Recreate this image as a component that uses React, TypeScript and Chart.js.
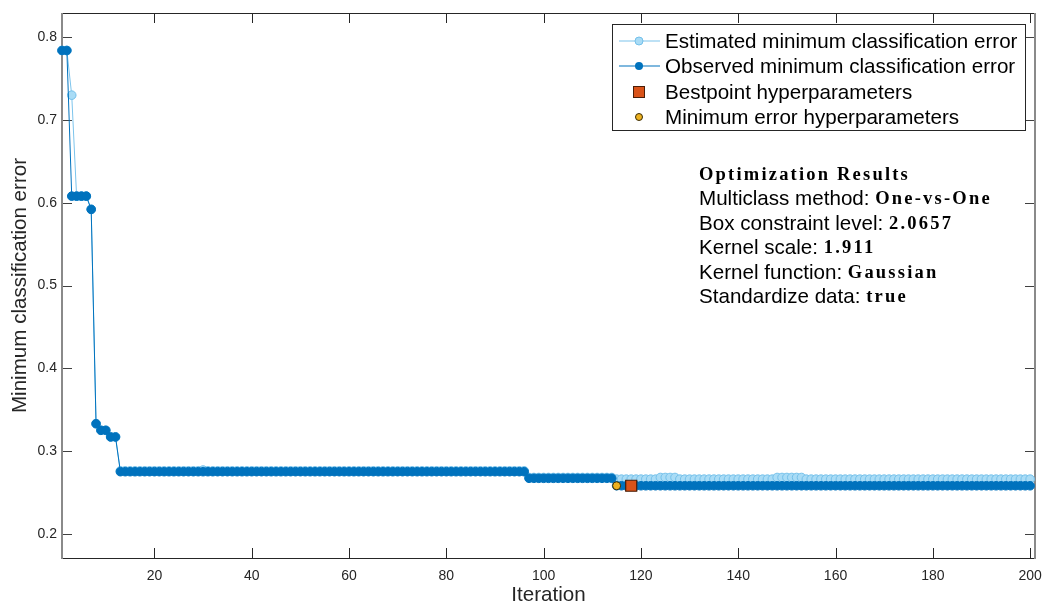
import React, { useEffect, useRef } from "react";
import { Chart, registerables } from "chart.js";

Chart.register(...registerables);

// ---------- data ----------
const iterations: number[] = Array.from({ length: 200 }, (_, i) => i + 1);

const estimatedMinError: number[] = [
  0.784, 0.784, 0.730, 0.608, 0.608, 0.608, 0.592, 0.333, 0.325, 0.325,
  0.317, 0.317, 0.276, 0.276, 0.276, 0.276, 0.276, 0.276, 0.276, 0.276,
  0.276, 0.276, 0.276, 0.276, 0.276, 0.276, 0.276, 0.276, 0.276, 0.277,
  0.276, 0.276, 0.276, 0.276, 0.276, 0.276, 0.276, 0.276, 0.276, 0.276,
  0.276, 0.276, 0.276, 0.276, 0.276, 0.276, 0.276, 0.276, 0.276, 0.276,
  0.276, 0.276, 0.276, 0.276, 0.276, 0.276, 0.276, 0.276, 0.276, 0.276,
  0.276, 0.276, 0.276, 0.276, 0.276, 0.276, 0.276, 0.276, 0.276, 0.276,
  0.276, 0.276, 0.276, 0.276, 0.276, 0.276, 0.276, 0.276, 0.276, 0.276,
  0.276, 0.276, 0.276, 0.276, 0.276, 0.276, 0.276, 0.276, 0.276, 0.276,
  0.276, 0.276, 0.276, 0.276, 0.276, 0.276, 0.268, 0.268, 0.268, 0.268,
  0.268, 0.268, 0.268, 0.268, 0.268, 0.268, 0.268, 0.268, 0.268, 0.268,
  0.268, 0.268, 0.268, 0.268, 0.266, 0.266, 0.266, 0.266, 0.266, 0.266,
  0.266, 0.266, 0.266, 0.268, 0.268, 0.268, 0.268, 0.266, 0.266, 0.266,
  0.266, 0.266, 0.266, 0.266, 0.266, 0.266, 0.266, 0.266, 0.266, 0.266,
  0.266, 0.266, 0.266, 0.266, 0.266, 0.266, 0.266, 0.268, 0.268, 0.268,
  0.268, 0.268, 0.268, 0.266, 0.266, 0.266, 0.266, 0.266, 0.266, 0.266,
  0.266, 0.266, 0.266, 0.266, 0.266, 0.266, 0.266, 0.266, 0.266, 0.266,
  0.266, 0.266, 0.266, 0.266, 0.266, 0.266, 0.266, 0.266, 0.266, 0.266,
  0.266, 0.266, 0.266, 0.266, 0.266, 0.266, 0.266, 0.266, 0.266, 0.266,
  0.266, 0.266, 0.266, 0.266, 0.266, 0.266, 0.266, 0.266, 0.266, 0.266,
];

const observedMinError: number[] = [
  0.784, 0.784, 0.608, 0.608, 0.608, 0.608, 0.592, 0.333, 0.325, 0.325,
  0.317, 0.317, 0.275, 0.275, 0.275, 0.275, 0.275, 0.275, 0.275, 0.275,
  0.275, 0.275, 0.275, 0.275, 0.275, 0.275, 0.275, 0.275, 0.275, 0.275,
  0.275, 0.275, 0.275, 0.275, 0.275, 0.275, 0.275, 0.275, 0.275, 0.275,
  0.275, 0.275, 0.275, 0.275, 0.275, 0.275, 0.275, 0.275, 0.275, 0.275,
  0.275, 0.275, 0.275, 0.275, 0.275, 0.275, 0.275, 0.275, 0.275, 0.275,
  0.275, 0.275, 0.275, 0.275, 0.275, 0.275, 0.275, 0.275, 0.275, 0.275,
  0.275, 0.275, 0.275, 0.275, 0.275, 0.275, 0.275, 0.275, 0.275, 0.275,
  0.275, 0.275, 0.275, 0.275, 0.275, 0.275, 0.275, 0.275, 0.275, 0.275,
  0.275, 0.275, 0.275, 0.275, 0.275, 0.275, 0.267, 0.267, 0.267, 0.267,
  0.267, 0.267, 0.267, 0.267, 0.267, 0.267, 0.267, 0.267, 0.267, 0.267,
  0.267, 0.267, 0.267, 0.267, 0.258, 0.258, 0.258, 0.258, 0.258, 0.258,
  0.258, 0.258, 0.258, 0.258, 0.258, 0.258, 0.258, 0.258, 0.258, 0.258,
  0.258, 0.258, 0.258, 0.258, 0.258, 0.258, 0.258, 0.258, 0.258, 0.258,
  0.258, 0.258, 0.258, 0.258, 0.258, 0.258, 0.258, 0.258, 0.258, 0.258,
  0.258, 0.258, 0.258, 0.258, 0.258, 0.258, 0.258, 0.258, 0.258, 0.258,
  0.258, 0.258, 0.258, 0.258, 0.258, 0.258, 0.258, 0.258, 0.258, 0.258,
  0.258, 0.258, 0.258, 0.258, 0.258, 0.258, 0.258, 0.258, 0.258, 0.258,
  0.258, 0.258, 0.258, 0.258, 0.258, 0.258, 0.258, 0.258, 0.258, 0.258,
  0.258, 0.258, 0.258, 0.258, 0.258, 0.258, 0.258, 0.258, 0.258, 0.258,
];

const bestpointIteration: number[] = [118];
const bestpointError: number[] = [0.258];
const minErrorIteration: number[] = [115];
const minErrorValue: number[] = [0.258];

const xTickValues: number[] = [20, 40, 60, 80, 100, 120, 140, 160, 180, 200];
const yTickValues: number[] = [0.2, 0.3, 0.4, 0.5, 0.6, 0.7, 0.8];
const xRange: number[] = [1, 201];
const yRange: number[] = [0.1707, 0.8293];

const legendLabels: string[] = [
  "Estimated minimum classification error",
  "Observed minimum classification error",
  "Bestpoint hyperparameters",
  "Minimum error hyperparameters",
];

const resultLabels: string[] = [
  "",
  "Multiclass method: ",
  "Box constraint level: ",
  "Kernel scale: ",
  "Kernel function: ",
  "Standardize data: ",
];
const resultValues: string[] = [
  "Optimization Results",
  "One-vs-One",
  "2.0657",
  "1.911",
  "Gaussian",
  "true",
];

// ---------- styles ----------
const EST_LINE = "#7cc4ec";
const EST_FILL = "#a9dcf6";
const EST_EDGE = "#74c0ea";
const OBS = "#0072BD";
const BEST_FILL = "#D95319";
const BEST_EDGE = "#4a1e08";
const MIN_FILL = "#EDB120";
const MIN_EDGE = "#3a2c06";
const SANS = '"Liberation Sans", Arial, sans-serif';
const SERIF = '"Liberation Serif", "Times New Roman", serif';

const framePlugin = {
  id: "matlabFrame",
  beforeDatasetsDraw(chart: any) {
    const { ctx, chartArea, scales } = chart;
    const { left, right, top, bottom } = chartArea;
    const x = scales.x;
    const y = scales.y;
    ctx.save();
    ctx.lineWidth = 1;
    ctx.strokeStyle = "#262626";
    const seg = (x1: number, y1: number, x2: number, y2: number) => {
      ctx.beginPath();
      ctx.moveTo(x1, y1);
      ctx.lineTo(x2, y2);
      ctx.stroke();
    };
    xTickValues.forEach((v) => {
      const px = Math.round(x.getPixelForValue(v)) + 0.5;
      seg(px, bottom, px, bottom - 10);
      seg(px, top, px, top + 10);
    });
    ctx.strokeStyle = "#404040";
    yTickValues.forEach((v) => {
      const py = Math.round(y.getPixelForValue(v)) + 0.5;
      seg(left, py, left + 10, py);
      seg(right, py, right - 10, py);
    });
    // box
    ctx.strokeStyle = "#262626";
    ctx.lineWidth = 1.2;
    seg(left, top + 0.5, right, top + 0.5);
    seg(left, bottom + 0.5, right, bottom + 0.5);
    ctx.strokeStyle = "#8a8a8a";
    ctx.lineWidth = 2;
    seg(left, top, left, bottom + 1);
    seg(right, top, right, bottom + 1);
    ctx.restore();
  },
  afterDraw(chart: any) {
    const { ctx } = chart;
    ctx.save();
    // ----- legend -----
    const bx = 612.5, by = 24.5, bw = 413, bh = 106;
    ctx.fillStyle = "#ffffff";
    ctx.fillRect(bx, by, bw, bh);
    ctx.strokeStyle = "#262626";
    ctx.lineWidth = 1;
    ctx.strokeRect(bx, by, bw, bh);
    const rows = [41, 66, 92, 117];
    const mx = 639;
    // row 1 estimated
    ctx.strokeStyle = EST_LINE;
    ctx.lineWidth = 1.2;
    ctx.beginPath(); ctx.moveTo(619, rows[0]); ctx.lineTo(660, rows[0]); ctx.stroke();
    ctx.beginPath(); ctx.arc(mx, rows[0], 4, 0, Math.PI * 2);
    ctx.fillStyle = EST_FILL; ctx.fill(); ctx.strokeStyle = EST_EDGE; ctx.lineWidth = 1; ctx.stroke();
    // row 2 observed
    ctx.strokeStyle = OBS;
    ctx.lineWidth = 1.2;
    ctx.beginPath(); ctx.moveTo(619, rows[1]); ctx.lineTo(660, rows[1]); ctx.stroke();
    ctx.beginPath(); ctx.arc(mx, rows[1], 4, 0, Math.PI * 2);
    ctx.fillStyle = OBS; ctx.fill();
    // row 3 bestpoint square
    ctx.fillStyle = BEST_FILL;
    ctx.fillRect(mx - 5.5, rows[2] - 5.5, 11, 11);
    ctx.strokeStyle = BEST_EDGE; ctx.lineWidth = 1;
    ctx.strokeRect(mx - 5.5, rows[2] - 5.5, 11, 11);
    // row 4 min error circle
    ctx.beginPath(); ctx.arc(mx, rows[3], 3.5, 0, Math.PI * 2);
    ctx.fillStyle = MIN_FILL; ctx.fill(); ctx.strokeStyle = MIN_EDGE; ctx.stroke();
    ctx.fillStyle = "#000000";
    ctx.font = `20.6px ${SANS}`;
    ctx.textBaseline = "middle";
    ctx.textAlign = "left";
    legendLabels.forEach((t, i) => ctx.fillText(t, 665, rows[i] + 1));

    // ----- results annotation -----
    const tx = 699;
    const ty0 = 175;
    const dy = 24.5;
    resultLabels.forEach((lab, i) => {
      const yy = ty0 + i * dy;
      ctx.font = `20.6px ${SANS}`;
      (ctx as any).letterSpacing = "0px";
      ctx.fillStyle = "#000000";
      ctx.fillText(lab, tx, yy);
      const w = lab ? ctx.measureText(lab).width : 0;
      ctx.font = `bold 18.5px ${SERIF}`;
      (ctx as any).letterSpacing = "2.2px";
      ctx.fillText(resultValues[i], tx + w, yy);
    });
    (ctx as any).letterSpacing = "0px";
    ctx.restore();
  },
};

export default function App() {
  const canvasRef = useRef<HTMLCanvasElement | null>(null);

  useEffect(() => {
    if (!canvasRef.current) return;
    const chart = new Chart(canvasRef.current, {
      type: "line",
      data: {
        datasets: [
          {
            label: legendLabels[3],
            data: minErrorIteration.map((x, i) => ({ x, y: minErrorValue[i] })),
            showLine: false,
            pointStyle: "circle",
            pointRadius: 4,
            pointBackgroundColor: MIN_FILL,
            pointBorderColor: MIN_EDGE,
            pointBorderWidth: 1,
            clip: false,
          } as any,
          {
            label: legendLabels[2],
            data: bestpointIteration.map((x, i) => ({ x, y: bestpointError[i] })),
            showLine: false,
            pointStyle: "rect",
            pointRadius: 7.8,
            pointBackgroundColor: BEST_FILL,
            pointBorderColor: BEST_EDGE,
            pointBorderWidth: 1.2,
            clip: false,
          } as any,
          {
            label: legendLabels[1],
            data: iterations.map((x, i) => ({ x, y: observedMinError[i] })),
            borderColor: OBS,
            borderWidth: 1,
            pointRadius: 4.3,
            pointBackgroundColor: OBS,
            pointBorderColor: OBS,
            pointBorderWidth: 1,
            tension: 0,
            clip: false,
          } as any,
          {
            label: legendLabels[0],
            data: iterations.map((x, i) => ({ x, y: estimatedMinError[i] })),
            borderColor: EST_LINE,
            borderWidth: 1,
            pointRadius: 4.3,
            pointBackgroundColor: EST_FILL,
            pointBorderColor: EST_EDGE,
            pointBorderWidth: 1,
            tension: 0,
            clip: false,
          } as any,
        ],
      },
      options: {
        animation: false,
        responsive: true,
        maintainAspectRatio: false,
        layout: { padding: { top: 13, right: 8, left: 0, bottom: 0 } },
        plugins: { legend: { display: false }, tooltip: { enabled: false } },
        scales: {
          x: {
            type: "linear",
            min: xRange[0],
            max: xRange[1],
            grid: { display: false, drawTicks: false },
            border: { display: false },
            ticks: {
              font: { family: SANS, size: 14 },
              color: "#262626",
              padding: 10,
              maxRotation: 0,
              autoSkip: false,
            },
            afterBuildTicks: (s: any) => {
              s.ticks = xTickValues.map((v) => ({ value: v }));
            },
            afterFit: (s: any) => {
              s.height = 47;
              s.paddingLeft = 0;
              s.paddingRight = 0;
            },
            title: {
              display: true,
              text: "Iteration",
              font: { family: SANS, size: 20.6, lineHeight: 1 },
              color: "#262626",
              padding: { top: 0, bottom: -1 },
            },
          },
          y: {
            type: "linear",
            min: yRange[0],
            max: yRange[1],
            grid: { display: false, drawTicks: false },
            border: { display: false },
            ticks: {
              font: { family: SANS, size: 14 },
              color: "#262626",
              padding: 5,
              callback: (v: any) => Number(v).toFixed(1),
            },
            afterBuildTicks: (s: any) => {
              s.ticks = yTickValues.map((v) => ({ value: v }));
            },
            afterFit: (s: any) => {
              s.width = 62;
              s.paddingTop = 0;
              s.paddingBottom = 0;
            },
            title: {
              display: true,
              text: "Minimum classification error",
              font: { family: SANS, size: 20.6, lineHeight: 1.2 },
              color: "#262626",
              padding: { top: 8, bottom: 0 },
            },
          },
        },
      } as any,
      plugins: [framePlugin],
    });
    return () => chart.destroy();
  }, []);

  return (
    <div style={{ position: "fixed", left: 0, top: 0, width: 1044, height: 605, background: "#fff" }}>
      <canvas ref={canvasRef} />
    </div>
  );
}
